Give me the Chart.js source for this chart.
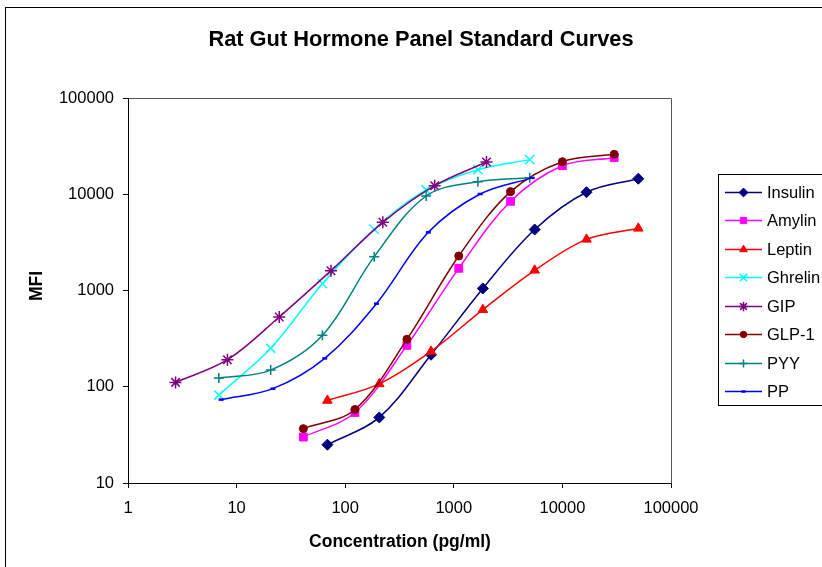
<!DOCTYPE html>
<html>
<head>
<meta charset="utf-8">
<title>Rat Gut Hormone Panel Standard Curves</title>
<script src="https://cdn.jsdelivr.net/npm/chart.js@4.4.1/dist/chart.umd.min.js"></script>
<style>
  html, body { margin: 0; padding: 0; background: #fff; }
  canvas { display: block; }
</style>
</head>
<body>
<canvas id="chart" width="822" height="567"></canvas>
<script>
// concentrations (pg/ml), 3-fold dilution series
const concInsulin = [68.6, 206, 617, 1852, 5556, 16667, 50000];
const concLeptin = [68.6, 206, 617, 1852, 5556, 16667, 50000];
const concAmylin = [41.2, 123, 370, 1111, 3333, 10000, 30000];
const concGLP1 = [41.2, 123, 370, 1111, 3333, 10000, 30000];
const concGhrelin = [6.86, 20.6, 61.7, 185, 556, 1667, 5000];
const concPYY = [6.86, 20.6, 61.7, 185, 556, 1667, 5000];
const concPP = [7.2, 21.6, 64.8, 194, 583, 1750, 5250];
const concGIP = [2.74, 8.23, 24.7, 74, 222, 667, 2000];

// MFI readings
const mfiInsulin = [25, 48, 215, 1050, 4300, 10500, 14500];
const mfiAmylin = [30, 54, 269, 1700, 8440, 19800, 24000];
const mfiLeptin = [72, 107, 233, 632, 1620, 3400, 4425];
const mfiGhrelin = [82, 251, 1178, 4320, 11070, 18000, 22900];
const mfiGIP = [111, 191, 531, 1607, 5110, 12280, 21630];
const mfiGLP1 = [36.7, 58, 311, 2282, 10640, 21800, 26000];
const mfiPYY = [123, 149, 342, 2247, 9590, 13510, 14870];
const mfiPP = [73.5, 95.5, 197, 730, 4020, 10060, 14800];

const xTicks = [1, 10, 100, 1000, 10000, 100000];
const yTicks = [10, 100, 1000, 10000, 100000];

const FONT = "Arial, 'Liberation Sans', Helvetica, sans-serif";

function pts(xs, ys) {
    return xs.map((x, i) => ({ x: x, y: ys[i] }));
}

// label, data, colour, marker, marker radius
const seriesDefs = [
    ['Insulin', pts(concInsulin, mfiInsulin), '#000080', 'rectRot', 5.5],
    ['Amylin', pts(concAmylin, mfiAmylin), '#FF00FF', 'rect', 5.5],
    ['Leptin', pts(concLeptin, mfiLeptin), '#FF0000', 'triangle', 5.5],
    ['Ghrelin', pts(concGhrelin, mfiGhrelin), '#00FFFF', 'crossRot', 6.5],
    ['GIP', pts(concGIP, mfiGIP), '#800080', 'star', 6],
    ['GLP-1', pts(concGLP1, mfiGLP1), '#800000', 'circle', 4],
    ['PYY', pts(concPYY, mfiPYY), '#008080', 'cross', 5],
    ['PP', pts(concPP, mfiPP), '#0000FF', 'line', 2.5]
];

const datasets = seriesDefs.map((s, i) => {
    const thin = (s[3] === 'crossRot' || s[3] === 'star' || s[3] === 'cross');
    return {
        label: s[0],
        data: s[1],
        borderColor: s[2],
        backgroundColor: s[2],
        borderWidth: 1.5,
        showLine: true,
        tension: 0.35,
        pointStyle: s[3],
        pointRadius: s[4],
        pointBorderWidth: s[3] === 'line' ? 2.5 : (thin ? 1.5 : 1),
        pointHoverRadius: s[4],
        order: seriesDefs.length - i   // later series drawn on top, like excel
    };
});

// background, frames, titles and the boxed legend
const decor = {
    id: 'decor',
    beforeDraw(chart) {
        const ctx = chart.ctx;
        ctx.save();
        ctx.fillStyle = '#fff';
        ctx.fillRect(0, 0, chart.width, chart.height);
        ctx.restore();
    },
    afterDraw(chart) {
        const ctx = chart.ctx;
        const a = chart.chartArea;
        ctx.save();

        // plot frame top and right
        ctx.strokeStyle = '#555';
        ctx.lineWidth = 1;
        ctx.beginPath();
        ctx.moveTo(Math.round(a.left) + 0.5, Math.round(a.top) + 0.5);
        ctx.lineTo(Math.round(a.right) + 0.5, Math.round(a.top) + 0.5);
        ctx.lineTo(Math.round(a.right) + 0.5, Math.round(a.bottom) + 0.5);
        ctx.stroke();

        // outer chart border
        ctx.strokeStyle = '#000';
        ctx.strokeRect(5.5, 7.5, 900, 900);

        // titles
        ctx.fillStyle = '#000';
        ctx.textAlign = 'center';
        ctx.textBaseline = 'alphabetic';
        ctx.font = 'bold 21.8px ' + FONT;
        ctx.fillText('Rat Gut Hormone Panel Standard Curves', 421, 46);
        ctx.font = 'bold 17.5px ' + FONT;
        ctx.fillText('Concentration (pg/ml)', 400, 547);
        ctx.save();
        ctx.translate(42, 286);
        ctx.rotate(-Math.PI / 2);
        ctx.fillText('MFI', 0, 0);
        ctx.restore();

        // legend
        ctx.strokeStyle = '#000';
        ctx.strokeRect(718.5, 174.5, 200, 231);
        ctx.textAlign = 'left';
        ctx.textBaseline = 'middle';
        ctx.font = '16.5px ' + FONT;
        chart.data.datasets.forEach((ds, i) => {
            const y = Math.round(191.5 + i * 28.5) + 0.5;
            ctx.strokeStyle = ds.borderColor;
            ctx.fillStyle = ds.backgroundColor;
            ctx.lineWidth = 1.5;
            ctx.beginPath();
            ctx.moveTo(725, y);
            ctx.lineTo(762, y);
            ctx.stroke();
            ctx.lineWidth = ds.pointBorderWidth;
            Chart.helpers.drawPoint(ctx, {
                pointStyle: ds.pointStyle,
                rotation: 0,
                radius: ds.pointRadius * 0.8,
                borderWidth: ds.pointBorderWidth
            }, 743.5, y);
            ctx.fillStyle = '#000';
            ctx.fillText(ds.label, 767, y + 1);
        });
        ctx.restore();
    }
};

const tickFont = { family: FONT, size: 16.5 };

new Chart(document.getElementById('chart'), {
    type: 'scatter',
    data: { datasets: datasets },
    plugins: [decor],
    options: {
        responsive: false,
        animation: false,
        devicePixelRatio: 1,
        layout: { padding: { left: 28, top: 98, right: 151, bottom: 24 } },
        plugins: {
            legend: { display: false },
            title: { display: false },
            tooltip: { enabled: false }
        },
        scales: {
            x: {
                type: 'logarithmic',
                min: 1,
                max: 100000,
                afterBuildTicks: (scale) => { scale.ticks = xTicks.map(v => ({ value: v })); },
                afterFit: (scale) => { scale.height = 60; },
                ticks: {
                    color: '#000',
                    font: tickFont,
                    padding: 11,
                    maxRotation: 0,
                    autoSkip: false,
                    callback: (v) => String(v)
                },
                grid: { drawOnChartArea: false, drawTicks: true, tickLength: 5, color: '#000' },
                border: { display: true, color: '#000', width: 1 }
            },
            y: {
                type: 'logarithmic',
                min: 10,
                max: 100000,
                afterBuildTicks: (scale) => { scale.ticks = yTicks.map(v => ({ value: v })); },
                afterFit: (scale) => { scale.width = 100; },
                ticks: {
                    color: '#000',
                    font: tickFont,
                    padding: 9,
                    autoSkip: false,
                    callback: (v) => String(v)
                },
                grid: { drawOnChartArea: false, drawTicks: true, tickLength: 5, color: '#000' },
                border: { display: true, color: '#000', width: 1 }
            }
        }
    }
});
</script>
</body>
</html>
